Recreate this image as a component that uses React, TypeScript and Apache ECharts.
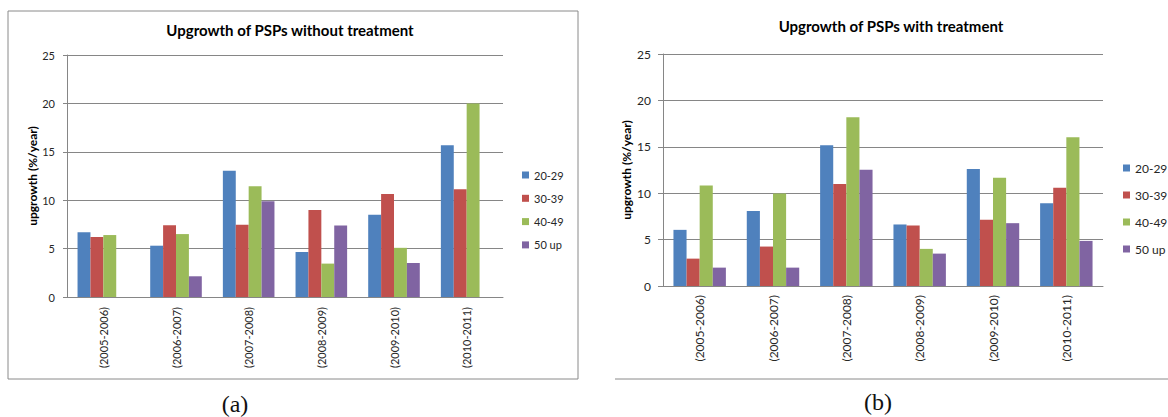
import React, { useEffect, useRef } from "react";
import * as echarts from "echarts";

const categories = ["(2005-2006)", "(2006-2007)", "(2007-2008)", "(2008-2009)", "(2009-2010)", "(2010-2011)"];
const seriesNames = ["20-29", "30-39", "40-49", "50 up"];
const colors = ["#4F81BD", "#C0504D", "#9BBB59", "#8064A2"];
const yTicks = { min: 0, max: 25, interval: 5 };

// Upgrowth of PSPs without treatment
const without2029 = [6.7, 5.3, 13.05, 4.66, 8.5, 15.68];
const without3039 = [6.2, 7.4, 7.46, 9.0, 10.64, 11.12];
const without4049 = [6.4, 6.5, 11.43, 3.45, 5.08, 20.0];
const without50up = [0, 2.14, 9.88, 7.39, 3.52, 0];

// Upgrowth of PSPs with treatment
const with2029 = [6.05, 8.07, 15.17, 6.63, 12.61, 8.93];
const with3039 = [2.95, 4.25, 10.99, 6.52, 7.13, 10.59];
const with4049 = [10.84, 9.98, 18.19, 4.0, 11.67, 16.03];
const with50up = [1.98, 1.98, 12.54, 3.49, 6.77, 4.86];

const titleA = "Upgrowth of PSPs without treatment";
const titleB = "Upgrowth of PSPs with treatment";
const yName = "upgrowth (%/year)";

const FONT = "Lato, 'Open Sans', sans-serif";
const GRID_COLOR = "#868686";

export default function App() {
  const ref = useRef<HTMLDivElement>(null);

  useEffect(() => {
    document.body.style.margin = "0";
    if (!ref.current) return;
    const chart = echarts.init(ref.current, null, { renderer: "svg" });

    const mkX = (gridIndex: number, fs: number, margin: number) => ({
      type: "category",
      gridIndex,
      data: categories,
      axisTick: { show: false },
      axisLine: { lineStyle: { color: GRID_COLOR, width: 1 } },
      axisLabel: { rotate: 90, fontSize: fs, fontFamily: FONT, color: "#262626", margin },
    });
    const mkY = (gridIndex: number, fs: number, nameGap: number, tickLen: number) => ({
      type: "value",
      gridIndex,
      min: yTicks.min,
      max: yTicks.max,
      interval: yTicks.interval,
      name: yName,
      nameLocation: "middle",
      nameRotate: 90,
      nameGap,
      nameTextStyle: { fontSize: 12, fontWeight: "bold", fontFamily: FONT, color: "#000" },
      axisLine: { show: true, lineStyle: { color: GRID_COLOR, width: 1 } },
      axisTick: { show: true, length: tickLen, lineStyle: { color: GRID_COLOR } },
      axisLabel: { fontSize: fs, fontFamily: FONT, color: "#262626", margin: 12 },
      splitLine: { lineStyle: { color: GRID_COLOR, width: 1 } },
    });

    const dataA = [without2029, without3039, without4049, without50up];
    const dataB = [with2029, with3039, with4049, with50up];
    const series: any[] = [];
    dataA.forEach((d, i) =>
      series.push({
        type: "bar",
        name: seriesNames[i],
        xAxisIndex: 0,
        yAxisIndex: 0,
        data: d,
        barGap: "0%",
        barCategoryGap: "29%",
        itemStyle: { color: colors[i] },
      })
    );
    dataB.forEach((d, i) =>
      series.push({
        type: "bar",
        name: seriesNames[i],
        xAxisIndex: 1,
        yAxisIndex: 1,
        data: d,
        barGap: "0%",
        barCategoryGap: "28.5%",
        itemStyle: { color: colors[i] },
      })
    );

    chart.setOption({
      animation: false,
      backgroundColor: "#fff",
      color: colors,
      grid: [
        { left: 67, right: 1168 - 503, top: 55, bottom: 417 - 297 },
        { left: 663, right: 1168 - 1103, top: 54, bottom: 417 - 286 },
      ],
      xAxis: [mkX(0, 11, 10), mkX(1, 12, 9)],
      yAxis: [mkY(0, 11, 28, 4), mkY(1, 12, 31, 5)],
      legend: [
        {
          orient: "vertical",
          left: 517,
          top: 163,
          padding: 5,
          icon: "rect",
          itemWidth: 7,
          itemHeight: 7,
          itemGap: 9.3,
          data: seriesNames,
          textStyle: { fontSize: 11, lineHeight: 14, fontFamily: FONT, color: "#262626" },
        },
        {
          orient: "vertical",
          left: 1118,
          top: 155.5,
          padding: 5,
          icon: "rect",
          itemWidth: 7,
          itemHeight: 7,
          itemGap: 12,
          data: seriesNames,
          textStyle: { fontSize: 12, lineHeight: 15, fontFamily: FONT, color: "#262626" },
        },
      ],
      graphic: [
        {
          type: "rect",
          shape: { x: 8, y: 11, width: 570, height: 368 },
          style: { fill: "none", stroke: "#8a8a8a", lineWidth: 1 },
          silent: true,
        },
        {
          type: "line",
          shape: { x1: 615, y1: 379, x2: 1168, y2: 379 },
          style: { stroke: "#8a8a8a", lineWidth: 1 },
          silent: true,
        },
        {
          type: "text",
          x: 290,
          y: 30,
          style: { text: titleA, align: "center", verticalAlign: "middle", font: `bold 15px ${FONT}`, fill: "#000" },
        },
        {
          type: "text",
          x: 891,
          y: 26,
          style: { text: titleB, align: "center", verticalAlign: "middle", font: `bold 15px ${FONT}`, fill: "#000" },
        },
        {
          type: "text",
          x: 235,
          y: 404,
          style: { text: "(a)", align: "center", verticalAlign: "middle", font: "24px 'Liberation Serif', serif", fill: "#111" },
        },
        {
          type: "text",
          x: 878,
          y: 402,
          style: { text: "(b)", align: "center", verticalAlign: "middle", font: "24px 'Liberation Serif', serif", fill: "#111" },
        },
      ],
      series,
    });

    return () => chart.dispose();
  }, []);

  return <div ref={ref} style={{ width: 1168, height: 417 }} />;
}
